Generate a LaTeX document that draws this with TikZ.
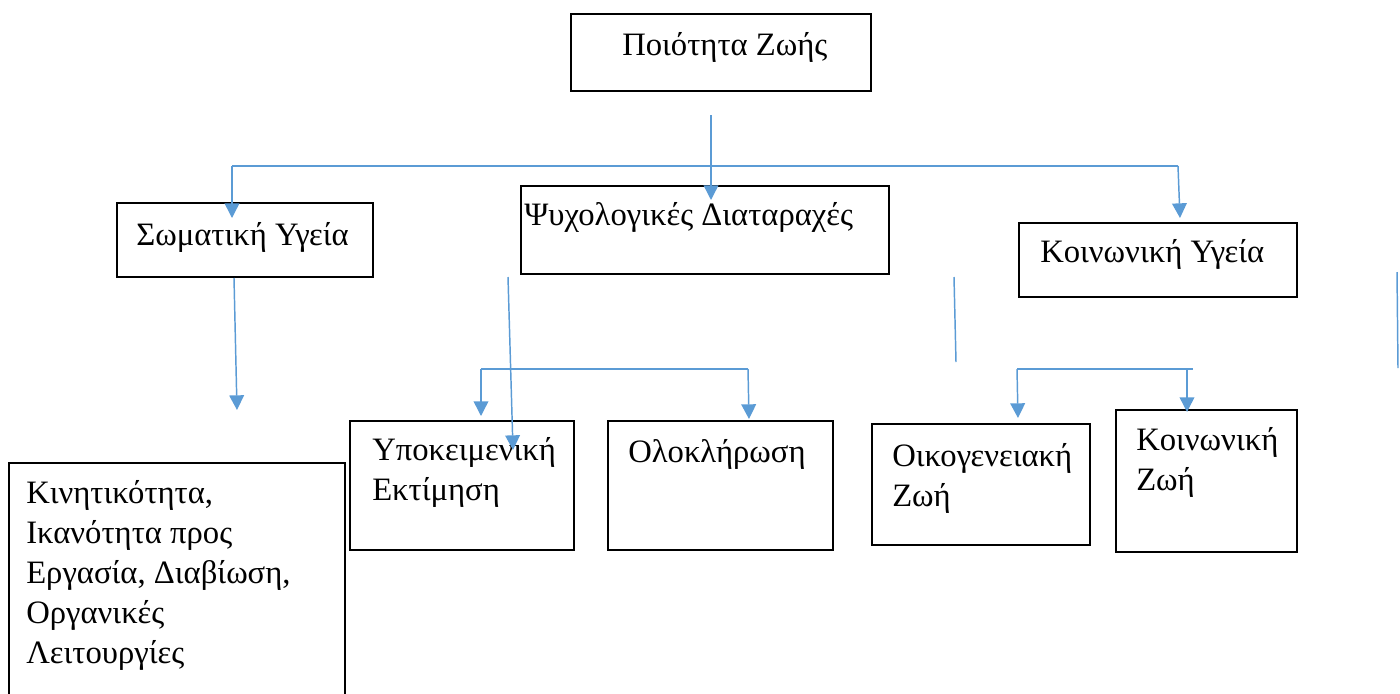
\documentclass[tikz,border=0pt]{standalone}
\usepackage{fontspec}
\setmainfont{Liberation Serif}
\usetikzlibrary{arrows.meta,fit}
\definecolor{linkblue}{RGB}{91,155,213}

\begin{document}
\begin{tikzpicture}[
  x=0.75pt, y=-0.75pt,
  box/.style={draw=black, line width=1.5pt, inner sep=0pt},
  txt/.style={font=\fontsize{24.5}{30}\selectfont, inner sep=0pt,
              anchor=base west, align=left},
  link/.style={draw=linkblue, line width=1.1pt},
  arr/.style={link, -{Triangle[width=11pt,length=11pt]}},
]
\useasboundingbox (0,0) rectangle (1400,693);

% Boxes
\node[box, fit={(571,14) (871,91)}]    (qol)  {};
\node[box, fit={(117,203) (373,277)}]  (soma) {};
\node[box, fit={(521,186) (889,274)}]  (psy)  {};
\node[box, fit={(1019,223) (1297,297)}] (soc) {};
\node[box, fit={(9,463) (345,710)}]    (func) {};
\node[box, fit={(350,421) (574,550)}]  (subj) {};
\node[box, fit={(608,421) (833,550)}]  (integ) {};
\node[box, fit={(872,424) (1090,545)}] (fam)  {};
\node[box, fit={(1116,410) (1297,552)}] (life) {};

% Texts (base = last line)
\node[txt] (qol-t)   at (622,55)  {Ποιότητα Ζωής};
\node[txt] (soma-t)  at (136,245) {Σωματική Υγεία};
\node[txt] (psy-t)   at (524,225) {Ψυχολογικές Διαταραχές};
\node[txt] (soc-t)   at (1040,262) {Κοινωνική Υγεία};
\node[txt] (func-t)  at (26,663)  {Κινητικότητα,\\Ικανότητα προς\\Εργασία, Διαβίωση,\\Οργανικές\\Λειτουργίες};
\node[txt] (subj-t)  at (372,500) {Υποκειμενική\\Εκτίμηση};
\node[txt] (integ-t) at (628,462) {Ολοκλήρωση};
\node[txt] (fam-t)   at (892,506) {Οικογενειακή\\Ζωή};
\node[txt] (life-t)  at (1136,490) {Κοινωνική\\Ζωή};

% Connector ends
\coordinate (qol-out) at (711,115);
\coordinate (psy-in)  at (711,200);
\coordinate (bus-l)   at (232,166);
\coordinate (bus-r)   at (1178,166);
\coordinate (soma-in) at (232,218);
\coordinate (soc-in)  at (1180,218);
\coordinate (soma-out) at (234,278);
\coordinate (func-in) at (237,410);
\coordinate (psy-out) at (508,277);
\coordinate (subj-mid) at (513,450);
\coordinate (bus2-l)  at (481,369);
\coordinate (bus2-r)  at (748,369);
\coordinate (subj-in) at (481,416);
\coordinate (integ-in) at (749,419);
\coordinate (stub-a)  at (954,277);
\coordinate (stub-b)  at (956,362);
\coordinate (bus3-l)  at (1017,369);
\coordinate (bus3-m)  at (1187,369);
\coordinate (bus3-r)  at (1193,369);
\coordinate (fam-in)  at (1018,418);
\coordinate (life-in) at (1187,412);
\coordinate (edge-a)  at (1397,272);
\coordinate (edge-b)  at (1398,368);

% Level 1
\draw[arr] (qol-out) -- (psy-in);
\draw[link] (bus-l) -- (bus-r);
\draw[arr] (bus-l) -- (soma-in);
\draw[arr] (bus-r) -- (soc-in);

% Level 2
\draw[arr] (soma-out) -- (func-in);
\draw[arr] (psy-out) -- (subj-mid);
\draw[link] (bus2-l) -- (bus2-r);
\draw[arr] (bus2-l) -- (subj-in);
\draw[arr] (bus2-r) -- (integ-in);
\draw[link] (stub-a) -- (stub-b);
\draw[link] (bus3-l) -- (bus3-r);
\draw[arr] (bus3-l) -- (fam-in);
\draw[arr] (bus3-m) -- (life-in);
\draw[link] (edge-a) -- (edge-b);

\end{tikzpicture}
\end{document}
